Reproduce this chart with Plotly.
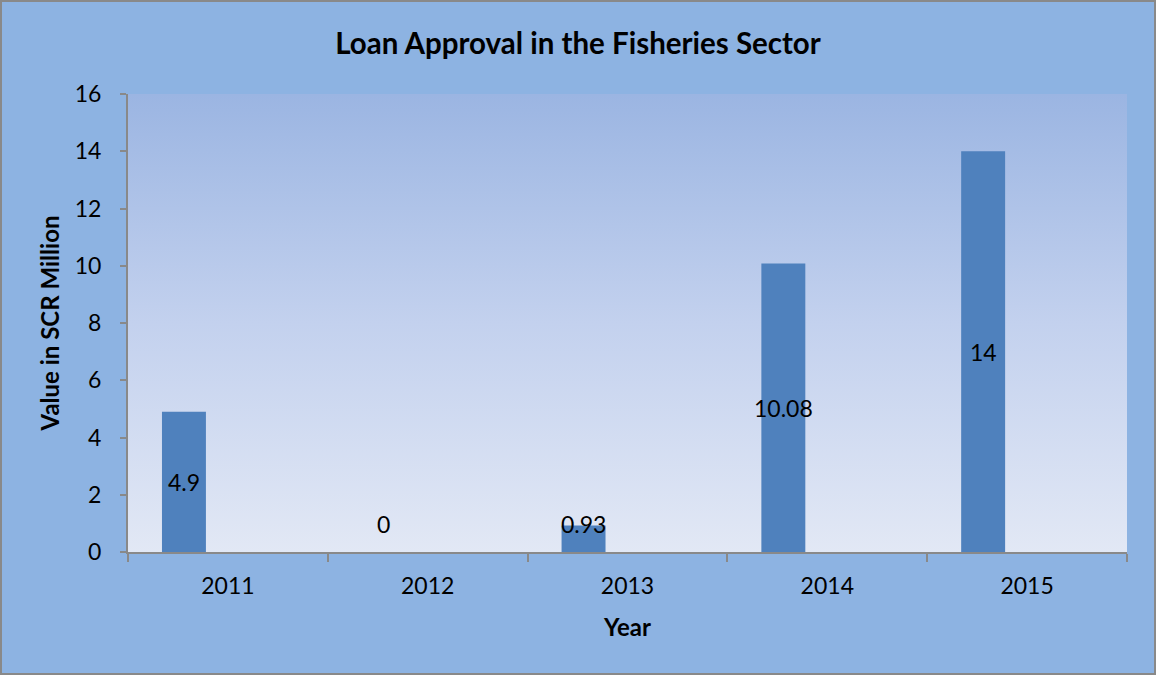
import base64
import plotly.graph_objects as go

years = ["2011", "2012", "2013", "2014", "2015"]
values = [4.9, 0, 0.93, 10.08, 14]
label_texts = ["4.9", "0", "0.93", "10.08", "14"]

W, H = 1156, 675
ML, MR, MT, MB = 128, 29, 94, 123
PW, PH = W - ML - MR, H - MT - MB

BAR_OFFSET = -0.33
BAR_WIDTH = 0.22
FONT = "Lato"

# vertical gradient for the plotting area
grad_svg = (
    '<svg xmlns="http://www.w3.org/2000/svg" width="10" height="100" preserveAspectRatio="none">'
    '<defs><linearGradient id="g" x1="0" y1="0" x2="0" y2="1">'
    '<stop offset="0" stop-color="#9BB5E2"/>'
    '<stop offset="0.5" stop-color="#C3D1EE"/>'
    '<stop offset="1" stop-color="#E2E8F5"/>'
    '</linearGradient></defs>'
    '<rect width="10" height="100" fill="url(#g)"/></svg>'
)
grad_src = "data:image/svg+xml;base64," + base64.b64encode(grad_svg.encode()).decode()

fig = go.Figure()
fig.add_trace(go.Bar(
    x=years,
    y=values,
    offset=BAR_OFFSET,
    width=BAR_WIDTH,
    marker=dict(color="#4F81BD", line=dict(width=0)),
    hoverinfo="x+y",
))

# data labels, centred in each bar (kept clear of the axis for small values)
for i, (v, t) in enumerate(zip(values, label_texts)):
    fig.add_annotation(
        x=i + BAR_OFFSET + BAR_WIDTH / 2,
        y=max(v / 2, 0.97),
        text=t,
        showarrow=False,
        font=dict(family=FONT, size=23, color="black"),
        xref="x", yref="y",
    )

fig.update_layout(
    width=W, height=H,
    margin=dict(l=ML, r=MR, t=MT, b=MB),
    paper_bgcolor="#8DB3E2",
    plot_bgcolor="rgba(0,0,0,0)",
    showlegend=False,
    title=dict(
        text="<b>Loan Approval in the Fisheries Sector</b>",
        x=0.5, xref="container", xanchor="center",
        y=1 - 44 / H, yref="container", yanchor="middle",
        font=dict(family=FONT, size=29.5, color="black"),
    ),
    font=dict(family=FONT, color="black"),
    images=[dict(
        source=grad_src,
        xref="paper", yref="paper",
        x=0, y=1, sizex=1, sizey=1,
        xanchor="left", yanchor="top",
        sizing="stretch", layer="below",
    )],
    shapes=[dict(
        type="rect", xref="paper", yref="paper",
        x0=(1 - ML) / PW, x1=(W - 1 - ML) / PW,
        y0=-(MB - 1) / PH, y1=1 + (MT - 1) / PH,
        line=dict(color="#898989", width=2),
        fillcolor="rgba(0,0,0,0)",
        layer="below",
    )],
)

fig.update_xaxes(
    type="category",
    tickson="boundaries",
    ticks="outside", ticklen=8, tickwidth=2, tickcolor="#898989",
    showline=True, linecolor="#898989", linewidth=2,
    showgrid=False,
    ticklabelstandoff=12,
    tickfont=dict(family=FONT, size=23, color="black"),
    title=dict(text="<b>Year</b>", font=dict(family=FONT, size=24, color="black"), standoff=22),
)
fig.update_yaxes(
    range=[0, 16], dtick=2, tick0=0,
    ticks="outside", ticklen=6, tickwidth=2, tickcolor="#898989",
    showline=True, linecolor="#898989", linewidth=2,
    showgrid=False, zeroline=False,
    ticklabelstandoff=14,
    tickfont=dict(family=FONT, size=23, color="black"),
    title=dict(text="<b>Value in SCR Million</b>", font=dict(family=FONT, size=24, color="black"), standoff=8),
)

fig.write_html("out.html")
